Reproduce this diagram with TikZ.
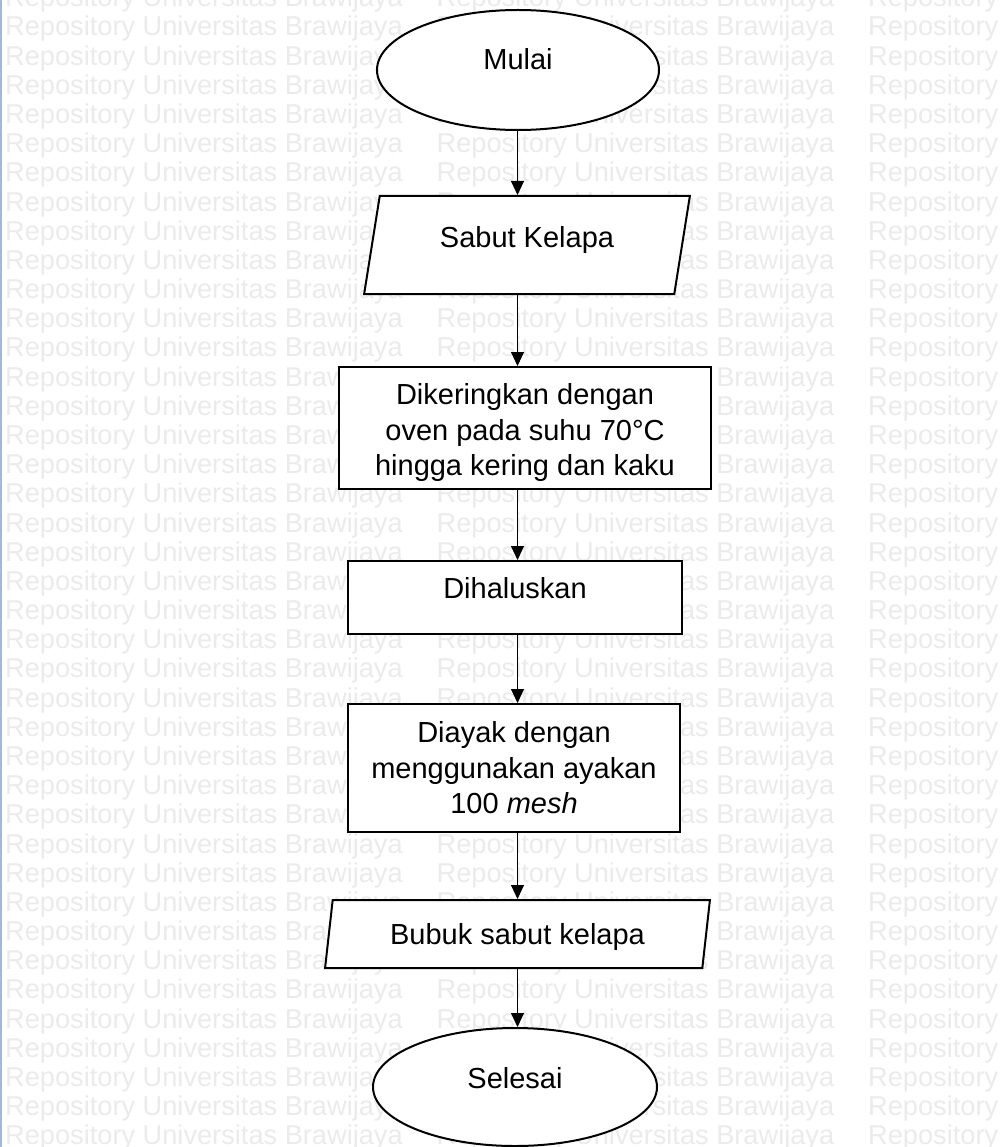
\documentclass[tikz,border=0pt]{standalone}
\usepackage{fontspec}
\setmainfont{Liberation Sans}
\usetikzlibrary{arrows.meta,positioning,shapes.geometric}
\definecolor{wmgray}{RGB}{235,235,235}
\definecolor{edgeblue}{RGB}{165,183,212}

\begin{document}
\begin{tikzpicture}[x=1pt,y=-1pt,
  wm/.style={inner sep=0pt,anchor=base west,text=wmgray,font=\fontsize{27.2}{30}\selectfont},
  shapebox/.style={draw,line width=2pt,fill=white,inner sep=0pt,align=center,
    font=\fontsize{29}{35.5}\selectfont},
  terminal/.style={shapebox,ellipse},
  io/.style={shapebox,trapezium,trapezium left angle=76,trapezium right angle=104,trapezium stretches=true},
  process/.style={shapebox,rectangle},
  flow/.style={line width=1pt,-{Triangle[width=13pt,length=14pt]}}]
\useasboundingbox (0,0) rectangle (1001,1147);
\fill[white] (0,0) rectangle (1001,1147);
% watermark
\foreach \r in {-1,...,38} \foreach \c in {0,1,2}
  \node[wm] (wm-\r-\c) at ({5+431.5*\c},{36+29.18*\r}) {Repository Universitas Brawijaya};
\draw[edgeblue,line width=1.5pt] (1.2,0) -- (1.2,1147);

\coordinate (axis) at (517.5,0);
\node[terminal,minimum width=282pt,minimum height=120pt,text height=21pt,text depth=22pt] (mulai) at (518,70) {Mulai};
\node[io,minimum width=326pt,minimum height=98pt,text height=21pt,text depth=16pt] (sabut) at (527,245) {Sabut Kelapa};
\node[process,minimum width=372pt,minimum height=122pt] (kering) at (525,428)
  {\rule{0pt}{31pt}Dikeringkan dengan\\oven pada suhu 70°C\\hingga kering dan kaku};
\node[process,minimum width=334pt,minimum height=73pt,text height=21pt,text depth=20pt] (halus) at (515,597.5) {Dihaluskan};
\node[process,minimum width=332pt,minimum height=128pt] (ayak) at (514,768)
  {Diayak dengan\\menggunakan ayakan\\100 \textit{mesh}};
\node[io,minimum width=385pt,minimum height=68pt,text height=21pt,text depth=0pt] (bubuk) at (517.5,934) {Bubuk sabut kelapa};
\node[terminal,minimum width=284pt,minimum height=118pt,text height=21pt,text depth=18pt] (selesai) at (515,1087) {Selesai};

\draw[flow] (axis |- mulai.south) -- (axis |- sabut.north);
\draw[flow] (axis |- sabut.south) -- (axis |- kering.north);
\draw[flow] (axis |- kering.south) -- (axis |- halus.north);
\draw[flow] (axis |- halus.south) -- (axis |- ayak.north);
\draw[flow] (axis |- ayak.south) -- (axis |- bubuk.north);
\draw[flow] (axis |- bubuk.south) -- (axis |- selesai.north);
\end{tikzpicture}
\end{document}
